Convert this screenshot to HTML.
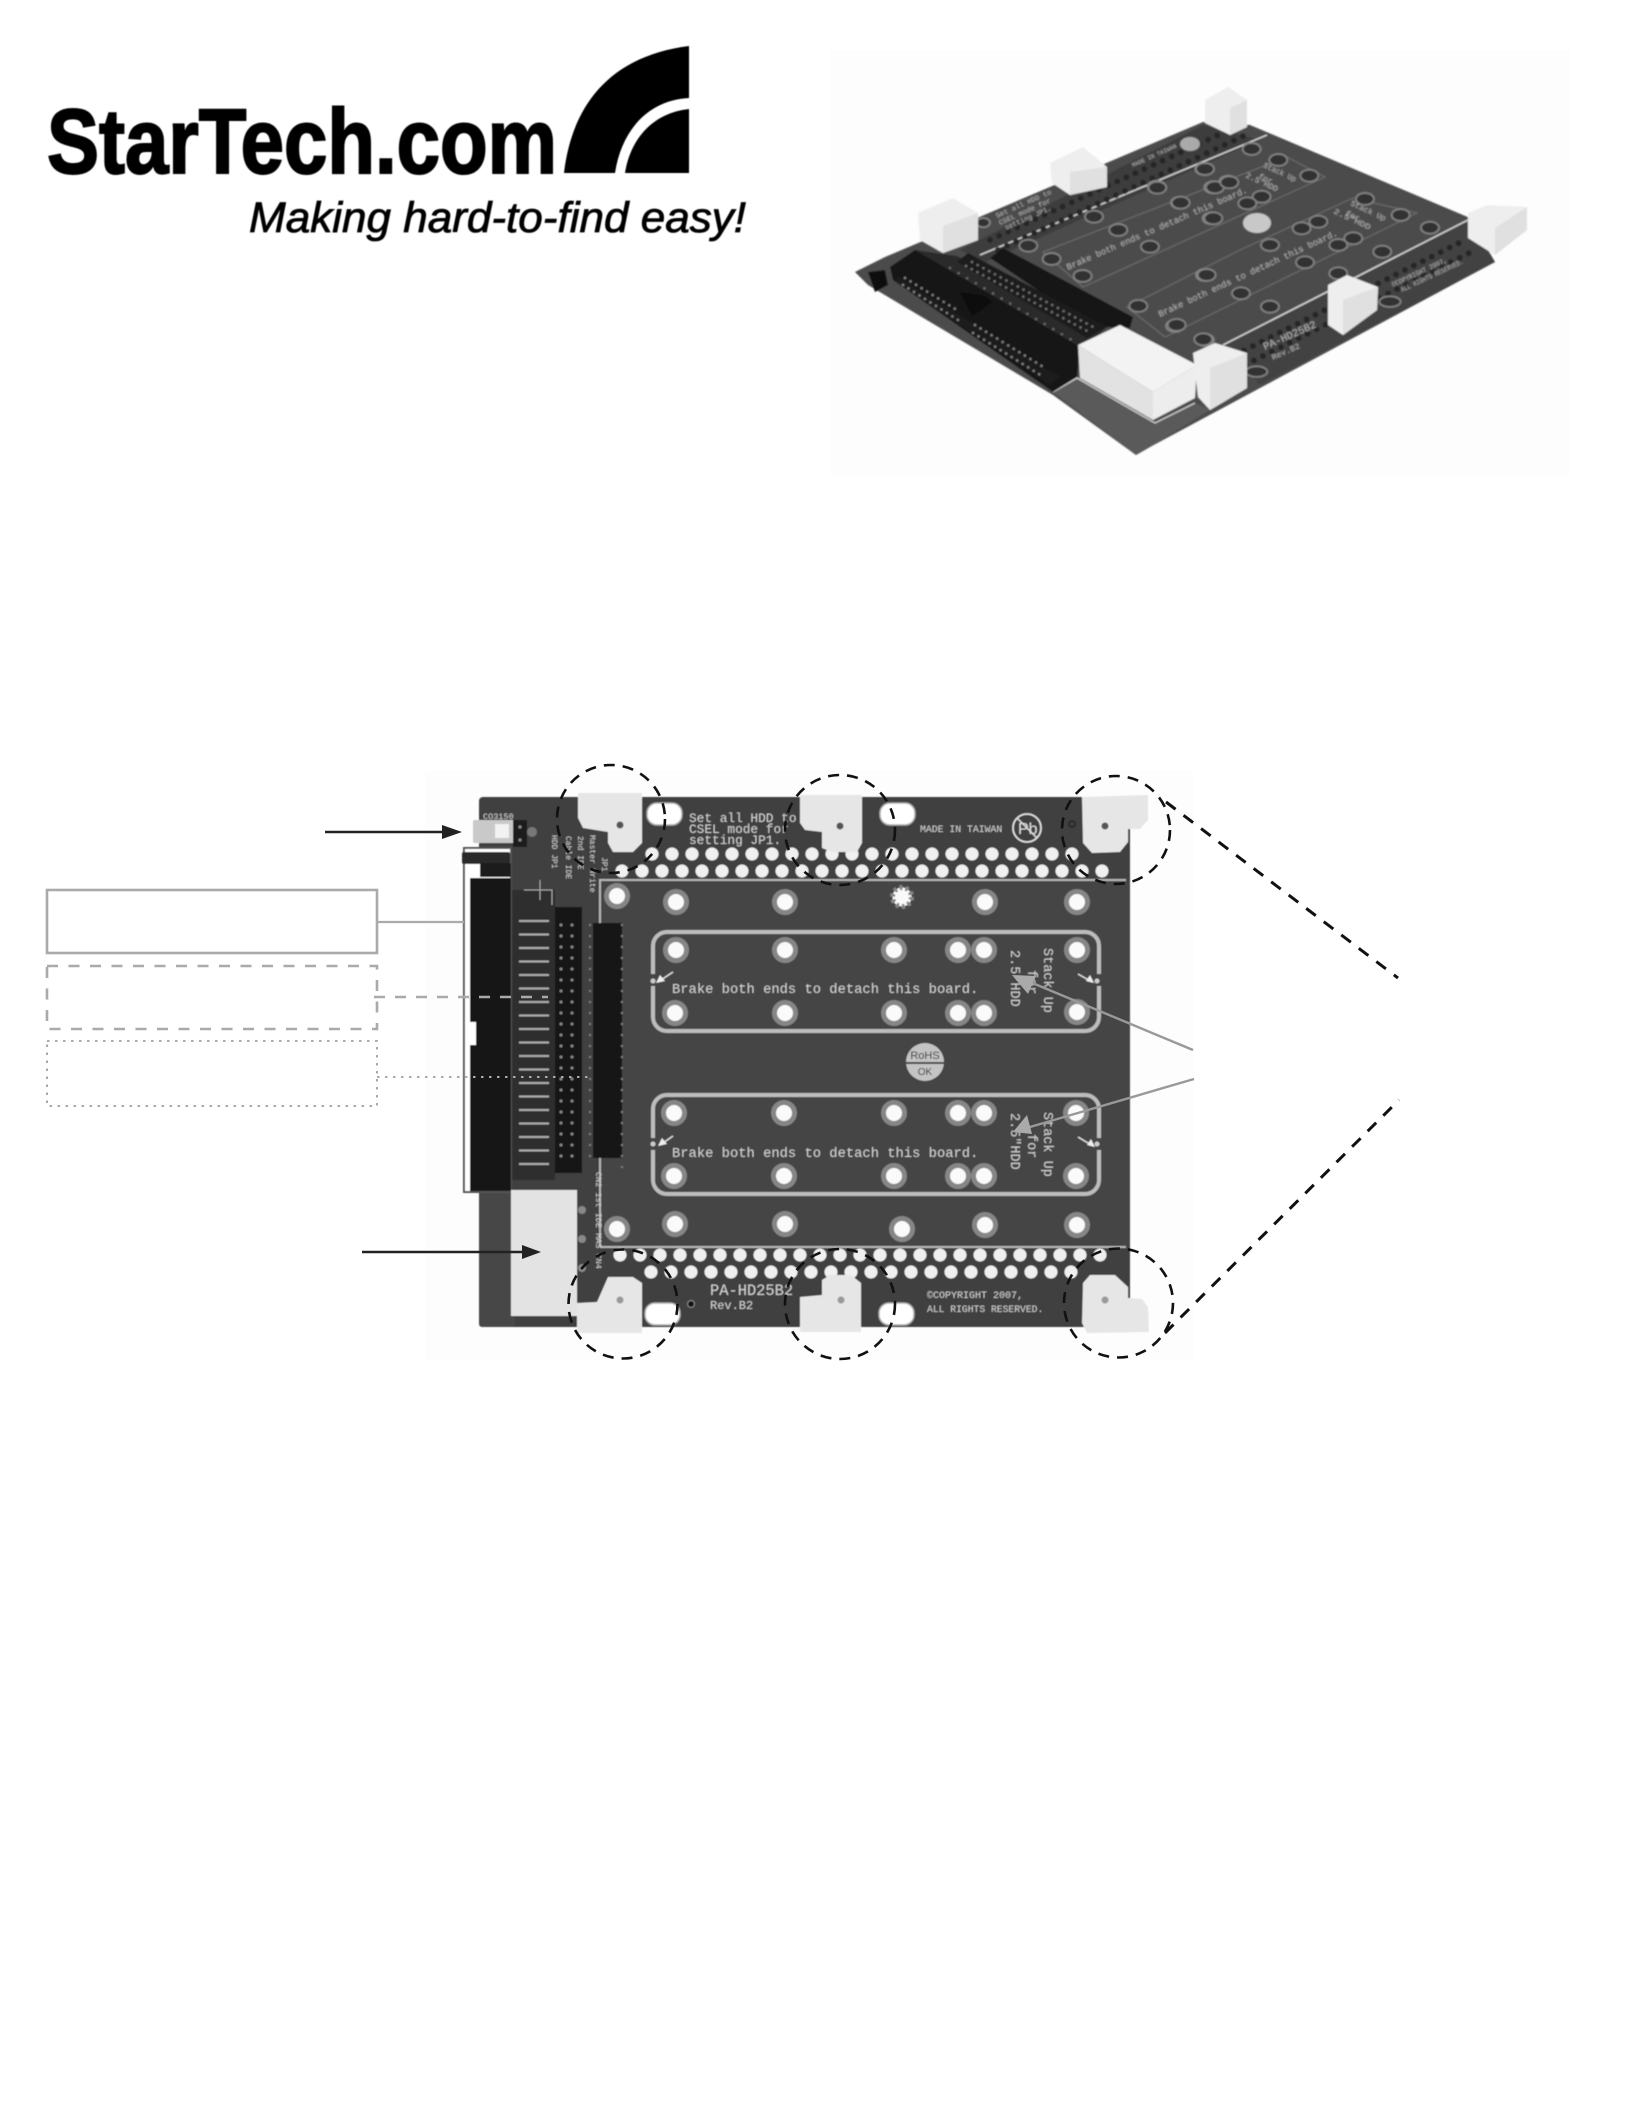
<!DOCTYPE html>
<html><head><meta charset="utf-8"><title>StarTech.com PA-HD25B2</title>
<style>html,body{margin:0;padding:0;background:#fff}svg{display:block}
.m{font-family:"Liberation Mono",monospace}.s{font-family:"Liberation Sans",sans-serif}</style></head>
<body>
<svg xmlns="http://www.w3.org/2000/svg" width="1632" height="2112" viewBox="0 0 1632 2112">
<defs>
<filter id="b1" x="-2%" y="-2%" width="104%" height="104%"><feGaussianBlur stdDeviation="0.9"/></filter>
<filter id="b2" x="-2%" y="-2%" width="104%" height="104%"><feGaussianBlur stdDeviation="0.55"/></filter>
</defs>
<rect width="1632" height="2112" fill="#fff"/>

<!-- Logo -->
<g filter="url(#b2)">
<text class="s" x="47" y="173" font-size="92" font-weight="700" fill="#000" stroke="#000" stroke-width="2" textLength="510" lengthAdjust="spacingAndGlyphs">StarTech.com</text>
<path d="M564 173C572 105 610 56 689 46V98C650 100 622 128 615 173Z" fill="#000"/>
<path d="M625 173C630 140 652 113 689 109V173Z" fill="#000"/>
<text class="s" x="249" y="232" font-size="43" font-style="italic" fill="#000" stroke="#000" stroke-width=".8" textLength="497" lengthAdjust="spacingAndGlyphs">Making hard-to-find easy!</text>
</g>

<!-- Photo -->
<rect x="830" y="50" width="740" height="425" fill="#fdfdfd"/>
<g filter="url(#b1)">
<polygon points="855,272 885,257 1203,122 1250,125 1470,218 1495,262 1150,447 1136,455 1053,395 868,285" fill="#4b4b4b"/>
<polygon points="1053,392 1077,377 1155,423 1195,403 1210,410 1150,447 1136,455" fill="#5a5a5a"/>
<polyline points="1053,392 1077,378 1155,423 1195,403" fill="none" stroke="#ddd" stroke-width="1.2"/>
<polygon points="960,250 1203,125 1260,140 985,262" fill="#3d3d3d"/>
<polygon points="1225,345 1465,222 1495,262 1260,385" fill="#424242"/>
<polygon points="1043,252 1083,287 1325,177 1287,157" fill="none" stroke="#6a6a6a" stroke-width="1.2"/>
<polygon points="1127,307 1165,337 1417,213 1353,198 1240,250" fill="none" stroke="#6a6a6a" stroke-width="1.2"/>
<line x1="980" y1="255" x2="1267" y2="135" stroke="#ddd" stroke-width="1.4"/>
<line x1="1223" y1="345" x2="1468" y2="220" stroke="#ddd" stroke-width="1.4"/>
<g stroke="#272727" stroke-width="6" stroke-linecap="round" stroke-dasharray="0 10" fill="none">
<line x1="990" y1="240" x2="1240" y2="125"/><line x1="998" y1="250" x2="1250" y2="133"/>
<line x1="1235" y1="355" x2="1465" y2="240"/><line x1="1245" y1="365" x2="1475" y2="250"/>
</g>
<g transform="translate(840,70) scale(.3333)" fill="#333" stroke="#858585" stroke-width="5">
<ellipse cx="950" cy="350" rx="27" ry="18"/><ellipse cx="1120" cy="352" rx="27" ry="18"/><ellipse cx="1165" cy="335" rx="27" ry="18"/><ellipse cx="1093" cy="297" rx="27" ry="18"/><ellipse cx="1020" cy="398" rx="27" ry="18"/><ellipse cx="835" cy="480" rx="27" ry="18"/><ellipse cx="1115" cy="445" rx="27" ry="18"/><ellipse cx="930" cy="530" rx="27" ry="18"/><ellipse cx="762" cy="440" rx="27" ry="18"/><ellipse cx="565" cy="527" rx="27" ry="18"/><ellipse cx="635" cy="567" rx="27" ry="18"/><ellipse cx="728" cy="618" rx="27" ry="18"/><ellipse cx="895" cy="708" rx="27" ry="18"/><ellipse cx="1005" cy="768" rx="27" ry="18"/><ellipse cx="1095" cy="810" rx="27" ry="18"/><ellipse cx="1095" cy="615" rx="27" ry="18"/><ellipse cx="430" cy="458" rx="20" ry="14"/>
</g>
<g transform="translate(1140,70) scale(.3333)" fill="#333" stroke="#858585" stroke-width="5">
<ellipse cx="335" cy="237" rx="27" ry="18"/><ellipse cx="415" cy="270" rx="27" ry="18"/><ellipse cx="508" cy="317" rx="27" ry="18"/><ellipse cx="195" cy="297" rx="27" ry="18"/><ellipse cx="52" cy="353" rx="27" ry="18"/><ellipse cx="225" cy="352" rx="27" ry="18"/><ellipse cx="268" cy="337" rx="27" ry="18"/><ellipse cx="122" cy="398" rx="27" ry="18"/><ellipse cx="365" cy="380" rx="27" ry="18"/><ellipse cx="322" cy="400" rx="27" ry="18"/><ellipse cx="220" cy="445" rx="27" ry="18"/><ellipse cx="675" cy="387" rx="27" ry="18"/><ellipse cx="782" cy="435" rx="27" ry="18"/><ellipse cx="870" cy="473" rx="27" ry="18"/><ellipse cx="535" cy="455" rx="27" ry="18"/><ellipse cx="485" cy="475" rx="27" ry="18"/><ellipse cx="640" cy="505" rx="27" ry="18"/><ellipse cx="595" cy="525" rx="27" ry="18"/><ellipse cx="727" cy="545" rx="27" ry="18"/><ellipse cx="495" cy="577" rx="27" ry="18"/><ellipse cx="390" cy="525" rx="27" ry="18"/><ellipse cx="200" cy="615" rx="27" ry="18"/><ellipse cx="303" cy="670" rx="27" ry="18"/><ellipse cx="390" cy="710" rx="27" ry="18"/><ellipse cx="595" cy="610" rx="27" ry="18"/><ellipse cx="110" cy="765" rx="27" ry="18"/><ellipse cx="190" cy="808" rx="27" ry="18"/>
<ellipse cx="750" cy="695" rx="32" ry="16"/><ellipse cx="350" cy="905" rx="32" ry="16"/>
</g>
<ellipse cx="1257" cy="223" rx="14" ry="10" fill="#c8c8c8"/>
<ellipse cx="1190" cy="144" rx="10" ry="7" fill="#aaa"/>
<g class="m" fill="#b4b4b4" font-size="9">
<text transform="translate(1068,270) rotate(-23.4)" textLength="196" lengthAdjust="spacingAndGlyphs">Brake both ends to detach this board.</text>
<text transform="translate(1160,317) rotate(-24.7)" textLength="196" lengthAdjust="spacingAndGlyphs">Brake both ends to detach this board.</text>
<text transform="translate(1265,350) rotate(-24)" font-size="10.5" textLength="57" lengthAdjust="spacingAndGlyphs">PA-HD25B2</text>
<text transform="translate(1273,360) rotate(-24)" font-size="8" textLength="30" lengthAdjust="spacingAndGlyphs">Rev.B2</text>
<text transform="translate(1393,287) rotate(-25)" font-size="7" textLength="60" lengthAdjust="spacingAndGlyphs">©COPYRIGHT 2007,</text>
<text transform="translate(1402,292) rotate(-25)" font-size="7" textLength="68" lengthAdjust="spacingAndGlyphs">ALL RIGHTS RESERVED.</text>
<text transform="translate(997,218) rotate(-24)" font-size="7" textLength="60" lengthAdjust="spacingAndGlyphs">Set all HDD to</text>
<text transform="translate(1000,225) rotate(-24)" font-size="7" textLength="56" lengthAdjust="spacingAndGlyphs">CSEL mode for</text>
<text transform="translate(1006,230) rotate(-24)" font-size="7" textLength="50" lengthAdjust="spacingAndGlyphs">setting JP1.</text>
<text transform="translate(1133,167) rotate(-24)" font-size="6" textLength="48" lengthAdjust="spacingAndGlyphs">MADE IN TAIWAN</text>
<text transform="translate(1263,167) rotate(25)" font-size="8" textLength="35" lengthAdjust="spacingAndGlyphs">Stack Up</text>
<text transform="translate(1258,178) rotate(25)" font-size="8">for</text>
<text transform="translate(1245,177) rotate(25)" font-size="8" textLength="35" lengthAdjust="spacingAndGlyphs">2.5"HDD</text>
<text transform="translate(1350,205) rotate(25)" font-size="8" textLength="38" lengthAdjust="spacingAndGlyphs">Stack Up</text>
<text transform="translate(1345,215) rotate(25)" font-size="8">for</text>
<text transform="translate(1333,213) rotate(25)" font-size="8" textLength="40" lengthAdjust="spacingAndGlyphs">2.5"HDD</text>
</g>
<!-- dark connector bed between headers -->
<polygon points="915,250 957,256 1107,327 1087,345 1080,350" fill="#2b2b2b"/>
<polygon points="990,258 1003,248 1133,317 1130,328 1107,327 1097,330" fill="#161616"/>
<polygon points="957,262 968,253 1107,327 1087,338" fill="#1e1e1e"/>
<g fill="none" stroke-linecap="round" stroke="#777" stroke-width="2.4" stroke-dasharray="0 6.5">
<line x1="972" y1="262" x2="1095" y2="328"/><line x1="966" y1="266" x2="1089" y2="332"/>
</g>
<line x1="950" y1="268" x2="1075" y2="342" stroke="#777" stroke-width="2.2" stroke-dasharray="0 10" stroke-linecap="round"/>
<polygon points="890,267 915,250 1080,347 1077,377 1053,392 893,280" fill="#121212"/>
<polygon points="897,276 1048,370 1060,376 1050,385 896,282" fill="#1c1c1c"/>
<polygon points="960,292 984,296 992,302 972,316" fill="#090909"/>
<g fill="none" stroke-linecap="round" stroke="#8a8a8a" stroke-width="2.4" stroke-dasharray="0 6.5">
<line x1="905" y1="278" x2="960" y2="312"/><line x1="903" y1="285" x2="958" y2="320"/>
<line x1="975" y1="325" x2="1045" y2="368"/><line x1="973" y1="333" x2="1042" y2="376"/>
</g>
<polygon points="868,272 885,270 888,285 875,292" fill="#111"/>
<polygon points="1078,345 1120,325 1197,365 1153,392" fill="#f3f3f3"/>
<polygon points="1078,345 1153,392 1153,420 1080,378" fill="#e2e2e2"/>
<polygon points="1153,392 1197,365 1195,398 1153,420" fill="#ededed"/>
<g fill="#eeeeee">
<polygon points="918,213 953,198 978,213 978,240 943,253 920,240"/>
<polygon points="1050,163 1083,147 1107,167 1107,187 1070,195 1052,183"/>
<polygon points="1205,100 1228,87 1247,100 1247,127 1230,135 1205,123"/>
<polygon points="1468,213 1487,205 1527,207 1527,230 1495,255 1468,238"/>
<polygon points="1328,285 1347,275 1378,287 1377,310 1343,335 1328,325"/>
<polygon points="1193,353 1215,343 1247,353 1247,388 1210,410 1198,397"/>
</g>
<g fill="#e0e0e0">
<polygon points="943,253 943,226 978,213 978,240"/>
<polygon points="1070,195 1070,172 1107,167 1107,187"/>
<polygon points="1230,135 1230,108 1247,100 1247,127"/>
<polygon points="1495,255 1495,228 1527,207 1527,230"/>
<polygon points="1343,335 1343,300 1378,287 1377,310"/>
<polygon points="1210,410 1210,368 1247,353 1247,388"/>
</g>
</g>

<!-- Main board -->
<rect x="425" y="770" width="768" height="590" fill="#fdfdfd"/>
<g filter="url(#b2)">
<rect x="479" y="797" width="651" height="530" rx="4" fill="#414141"/>
<rect x="479" y="1190" width="36" height="137" rx="3" fill="#474747"/>
<path d="M600 1247V880H1126M600 1247H1126" fill="none" stroke="#b5b5b5" stroke-width="2"/>
<rect x="601" y="881" width="529" height="365" fill="#444"/>
<!-- hole rows -->
<g stroke="#f0f0f0" stroke-width="13" stroke-linecap="round" stroke-dasharray="0 20" fill="none">
<line x1="652" y1="854" x2="1073" y2="854"/>
<line x1="622" y1="871" x2="1103" y2="871"/>
<line x1="620" y1="1255" x2="1101" y2="1255"/>
<line x1="651" y1="1272" x2="1072" y2="1272"/>
</g>
<!-- frames -->
<rect x="653" y="932" width="446" height="99" rx="14" fill="none" stroke="#bcbcbc" stroke-width="4"/>
<rect x="653" y="1095" width="446" height="99" rx="14" fill="none" stroke="#bcbcbc" stroke-width="4"/>
<g fill="#444"><rect x="650" y="974" width="7" height="12"/><rect x="1095" y="974" width="7" height="12"/><rect x="650" y="1138" width="7" height="12"/><rect x="1095" y="1138" width="7" height="12"/></g>
<g fill="#ccc"><circle cx="653" cy="981" r="2.5"/><circle cx="1097" cy="981" r="2.5"/><circle cx="653" cy="1144" r="2.5"/><circle cx="1097" cy="1144" r="2.5"/></g>
<g stroke="#ddd" stroke-width="1.5"><line x1="673" y1="972" x2="658" y2="982"/><line x1="1078" y1="974" x2="1092" y2="982"/><line x1="673" y1="1136" x2="660" y2="1145"/><line x1="1078" y1="1137" x2="1093" y2="1146"/></g>
<g fill="#eee"><polygon points="656,983 660,975 665,981"/><polygon points="1094,983 1086,981 1090,975"/><polygon points="658,1146 662,1138 667,1144"/><polygon points="1095,1147 1087,1145 1091,1139"/></g>
<!-- pads -->
<g fill="#fafafa" stroke="#868686" stroke-width="5">
<circle cx="617" cy="896" r="10.5"/><circle cx="676" cy="902" r="10.5"/><circle cx="785" cy="902" r="10.5"/><circle cx="902" cy="897" r="9.5" stroke-dasharray="3 3"/><circle cx="985" cy="902" r="10.5"/><circle cx="1077" cy="902" r="10.5"/>
<circle cx="676" cy="950" r="10.5"/><circle cx="785" cy="950" r="10.5"/><circle cx="894" cy="950" r="10.5"/><circle cx="958" cy="950" r="10.5"/><circle cx="984" cy="950" r="10.5"/><circle cx="1077" cy="950" r="10.5"/>
<circle cx="675" cy="1013" r="10.5"/><circle cx="785" cy="1013" r="10.5"/><circle cx="894" cy="1013" r="10.5"/><circle cx="958" cy="1013" r="10.5"/><circle cx="984" cy="1013" r="10.5"/><circle cx="1077" cy="1012" r="10.5"/>
<circle cx="674" cy="1113" r="10.5"/><circle cx="784" cy="1113" r="10.5"/><circle cx="894" cy="1113" r="10.5"/><circle cx="958" cy="1113" r="10.5"/><circle cx="984" cy="1113" r="10.5"/><circle cx="1076" cy="1113" r="10.5"/>
<circle cx="674" cy="1176" r="10.5"/><circle cx="784" cy="1176" r="10.5"/><circle cx="894" cy="1176" r="10.5"/><circle cx="958" cy="1176" r="10.5"/><circle cx="984" cy="1176" r="10.5"/><circle cx="1076" cy="1176" r="10.5"/>
<circle cx="617" cy="1229" r="10.5"/><circle cx="675" cy="1224" r="10.5"/><circle cx="785" cy="1224" r="10.5"/><circle cx="902" cy="1229" r="10.5"/><circle cx="985" cy="1225" r="10.5"/><circle cx="1077" cy="1225" r="10.5"/>
</g>
<!-- slots -->
<g fill="#fff" stroke="#aaa" stroke-width="1.5">
<rect x="647" y="803" width="35" height="22" rx="10"/><rect x="880" y="803" width="35" height="22" rx="10"/>
<rect x="645" y="1303" width="35" height="22" rx="10"/><rect x="879" y="1303" width="35" height="22" rx="10"/>
</g>
<circle cx="691" cy="1304" r="3.5" fill="#111" stroke="#777" stroke-width="1.5"/>
<circle cx="1072" cy="824" r="3" fill="none" stroke="#222" stroke-width="1.5"/>
<!-- board text -->
<g class="m" fill="#d0d0d0">
<text x="689" y="822" font-size="12.8">Set all HDD to</text>
<text x="689" y="833" font-size="12.8">CSEL mode for</text>
<text x="689" y="844" font-size="12.8">setting JP1.</text>
<text x="920" y="832" font-size="9.8">MADE IN TAIWAN</text>
<text x="672" y="993" font-size="13.8">Brake both ends to detach this board.</text>
<text x="672" y="1157" font-size="13.8">Brake both ends to detach this board.</text>
<text transform="translate(1044,948) rotate(90)" font-size="13.5">Stack Up</text>
<text transform="translate(1028,970) rotate(90)" font-size="13.5">for</text>
<text transform="translate(1011,950) rotate(90)" font-size="13.5">2.5"HDD</text>
<text transform="translate(1044,1112) rotate(90)" font-size="13.5">Stack Up</text>
<text transform="translate(1028,1134) rotate(90)" font-size="13.5">for</text>
<text transform="translate(1011,1113) rotate(90)" font-size="13.5">2.5"HDD</text>
<text x="710" y="1295" font-size="15.4">PA-HD25B2</text>
<text x="710" y="1309" font-size="12">Rev.B2</text>
<text x="927" y="1298" font-size="10">©COPYRIGHT 2007,</text>
<text x="927" y="1312" font-size="9.7">ALL RIGHTS RESERVED.</text>
<text x="483" y="819" font-size="8.5">CO3150</text>
<text transform="translate(602,857) rotate(90)" font-size="8">JP1</text>
<text transform="translate(590,835) rotate(90)" font-size="8">Master Write</text>
<text transform="translate(578,836) rotate(90)" font-size="8">2nd IDE</text>
<text transform="translate(566,836) rotate(90)" font-size="8">Cable IDE</text>
<text transform="translate(552,835) rotate(90)" font-size="8">HDD JP1</text>
<text transform="translate(596,1172) rotate(90)" font-size="8.5">CN2 1st IDE MAS CN4</text>
</g>
<circle cx="1027" cy="828" r="14" fill="none" stroke="#ddd" stroke-width="1.8"/>
<text class="s" x="1018" y="834" font-size="16" fill="#ddd">Pb</text>
<line x1="1017" y1="818" x2="1037" y2="838" stroke="#ddd" stroke-width="1.5"/>
<circle cx="925" cy="1062" r="19" fill="#c4c4c4"/>
<line x1="906" y1="1063" x2="944" y2="1063" stroke="#444" stroke-width="2"/>
<text class="s" x="925" y="1059" font-size="11" text-anchor="middle" fill="#333">RoHS</text>
<text class="s" x="925" y="1075" font-size="10" text-anchor="middle" fill="#333">OK</text>

<!-- connector area -->
<rect x="511" y="890" width="44" height="290" fill="#2f2f2f"/>
<line x1="534" y1="920" x2="534" y2="1170" stroke="#aaa" stroke-width="30" stroke-dasharray="2 11.5"/>
<rect x="555" y="907" width="27" height="266" fill="#151515"/>
<g fill="none" stroke="#888" stroke-width="3" stroke-linecap="round" stroke-dasharray="0 11">
<line x1="561" y1="925" x2="561" y2="1165"/><line x1="572" y1="925" x2="572" y2="1165"/>
</g>
<rect x="593" y="923" width="29" height="235" fill="#121212"/>
<g fill="none" stroke="#777" stroke-width="2.5" stroke-linecap="round" stroke-dasharray="0 11">
<line x1="590" y1="925" x2="590" y2="1158"/><line x1="622" y1="925" x2="622" y2="1170"/>
</g>
<path d="M524 890H552V905M540 880V900" fill="none" stroke="#aaa" stroke-width="1"/>
<!-- left connector -->
<rect x="464" y="848" width="47" height="344" fill="#fff" stroke="#555" stroke-width="2"/>
<rect x="462" y="852" width="48" height="12" rx="2" fill="#2a2a2a"/>
<rect x="470" y="863" width="41" height="14" fill="#1d1d1d"/>
<rect x="465" y="864" width="15" height="13" fill="#fff"/>
<rect x="470" y="878" width="41" height="313" fill="#141414"/>
<rect x="470" y="1022" width="6" height="23" fill="#fff"/>
<!-- jumper -->
<rect x="473" y="820" width="42" height="23" rx="2" fill="#c9c9c9"/>
<rect x="495" y="824" width="14" height="14" fill="#f2f2f2"/>
<rect x="513" y="820" width="14" height="27" fill="#1a1a1a"/>
<circle cx="520" cy="827" r="1.6" fill="#888"/><circle cx="520" cy="840" r="1.6" fill="#888"/>
<circle cx="532" cy="832" r="5" fill="#777"/>
<!-- power -->
<g fill="none" stroke="#888" stroke-width="8" stroke-linecap="round" stroke-dasharray="0 29"><line x1="582" y1="1210" x2="582" y2="1290"/></g>
<rect x="511" y="1190" width="66" height="126" fill="#e3e3e3"/>
<!-- standoffs -->
<g fill="#e6e6e6">
<polygon points="578,793 642,793 642,843 633,852 613,852 608,843 608,832 583,828 578,818"/>
<polygon points="800,795 862,795 862,843 857,852 832,852 822,848 822,832 805,830 800,823"/>
<polygon points="1082,797 1148,795 1148,820 1140,829 1128,829 1128,842 1120,852 1092,853 1083,843"/>
<polygon points="577,1303 597,1302 608,1277 633,1277 642,1283 642,1333 577,1333"/>
<polygon points="800,1297 822,1295 822,1280 830,1275 851,1275 861,1283 861,1332 800,1332"/>
<polygon points="1083,1283 1090,1275 1115,1275 1128,1287 1128,1298 1142,1299 1148,1307 1149,1332 1087,1333 1082,1323"/>
</g>
<g fill="#555"><circle cx="620" cy="825" r="3.5"/><circle cx="840" cy="826" r="3.5"/><circle cx="1105" cy="826" r="3.5"/></g>
<g fill="#999"><circle cx="620" cy="1300" r="3.5"/><circle cx="841" cy="1300" r="3.5"/><circle cx="1105" cy="1300" r="3.5"/></g>
</g>

<!-- callouts -->
<g fill="none" stroke="#111" stroke-width="2.6" stroke-dasharray="11 8">
<circle cx="611" cy="819" r="54"/><circle cx="840" cy="830" r="55"/><circle cx="1116" cy="830" r="54"/>
<circle cx="623" cy="1304" r="54.5"/><circle cx="840" cy="1304" r="55"/><circle cx="1118.5" cy="1303" r="54.5"/>
<line x1="1166" y1="802" x2="1398" y2="978" stroke-width="3" stroke-dasharray="12 10"/>
<line x1="1165" y1="1333" x2="1399" y2="1100" stroke-width="3" stroke-dasharray="12 10"/>
</g>
<line x1="325" y1="832" x2="446" y2="832" stroke="#222" stroke-width="2.6"/>
<polygon points="462,832 442,825 442,839" fill="#222"/>
<line x1="362" y1="1252" x2="525" y2="1252" stroke="#222" stroke-width="2.6"/>
<polygon points="541,1252 522,1245 522,1259" fill="#222"/>
<line x1="1193" y1="1050" x2="1030" y2="982" stroke="#999" stroke-width="2.4"/>
<polygon points="1012,975 1036,976 1028,994" fill="#aaa"/>
<line x1="1194" y1="1079" x2="1030" y2="1127" stroke="#999" stroke-width="2.4"/>
<polygon points="1013,1132 1027,1115 1032,1134" fill="#aaa"/>
<g fill="none" stroke="#aaa">
<rect x="47" y="890" width="330" height="63" stroke-width="2.6"/>
<line x1="377" y1="922" x2="464" y2="922" stroke-width="2.2"/>
<rect x="47" y="966" width="330" height="63" stroke-width="2.6" stroke-dasharray="11 10.5"/>
<line x1="374" y1="997" x2="548" y2="997" stroke-width="2.4" stroke-dasharray="11 10"/>
<rect x="47" y="1041" width="330" height="65" stroke-width="2" stroke-dasharray="2.5 5.5"/>
<line x1="377" y1="1077" x2="592" y2="1077" stroke-width="2" stroke-dasharray="2.5 5.5"/>
</g>
</svg>
</body></html>
